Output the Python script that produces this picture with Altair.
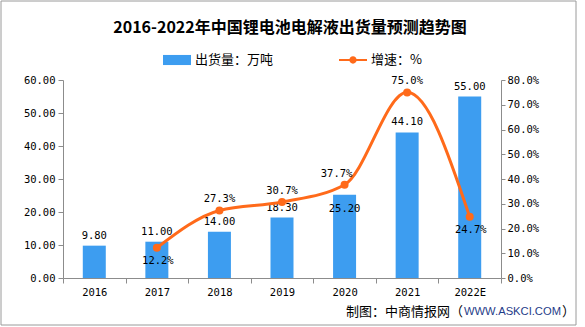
import altair as alt
import pandas as pd

# ---------------- data ----------------
years = ["2016", "2017", "2018", "2019", "2020", "2021", "2022E"]
shipments = [9.80, 11.00, 14.00, 18.30, 25.20, 44.10, 55.00]
growth_years = ["2017", "2018", "2019", "2020", "2021", "2022E"]
growth = [12.2, 27.3, 30.7, 37.7, 75.0, 24.7]
above_label_years = ["2018", "2019", "2021"]
left_shift_label_years = ["2020"]
below_label_years = ["2017", "2022E"]
inside_bar_label_years = ["2020"]
left_ticks = [0, 10, 20, 30, 40, 50, 60]
right_ticks = [0, 10, 20, 30, 40, 50, 60, 70, 80]

title_text = "2016-2022年中国锂电池电解液出货量预测趋势图"
bar_series = "出货量：万吨"
line_series = "增速：%"
source_a = "制图：中商情报网（"
source_b = "WWW.ASKCI.COM"
source_c = "）"

bar_df = pd.DataFrame({"year": years, "value": shipments})
line_df = pd.DataFrame({"year": growth_years, "rate": growth})
one = pd.DataFrame({"k": [0]})

BLUE = "#3D9DF0"
ORANGE = "#FF6A1A"
GRAY = "#8C8C8C"
CJK = "Noto Sans CJK SC"
NUM = "DejaVu Sans Mono"

x_enc = alt.X(
    "year:N",
    sort=years,
    scale=alt.Scale(domain=years, paddingInner=0, paddingOuter=0),
    axis=alt.Axis(
        title=None, labelAngle=0, tickBand="extent", domainColor=GRAY,
        tickColor=GRAY, tickSize=5, labelPadding=4, labelFont=NUM,
        labelFontSize=10.5, labelColor="#000000", grid=False,
    ),
)

y_left = alt.Y(
    "value:Q",
    scale=alt.Scale(domain=[0, 60], nice=False),
    axis=alt.Axis(
        orient="left", title=None, values=left_ticks, format=".2f",
        domainColor=GRAY, tickColor=GRAY, tickSize=5, labelPadding=3,
        labelFont=NUM, labelFontSize=10.5, labelColor="#000000", grid=False,
    ),
)

y_right = alt.Y(
    "rate:Q",
    scale=alt.Scale(domain=[0, 80], nice=False),
    axis=alt.Axis(
        orient="right", title=None, values=right_ticks,
        labelExpr="format(datum.value, '.1f') + '%'",
        domainColor=GRAY, tickColor=GRAY, tickSize=4, labelPadding=2,
        labelFont=NUM, labelFontSize=10.5, labelColor="#000000", grid=False,
    ),
)

bars = alt.Chart(bar_df).transform_calculate(series=f"'{bar_series}'").mark_bar(size=23).encode(
    x=x_enc,
    y=y_left,
    color=alt.Color(
        "series:N",
        scale=alt.Scale(domain=[bar_series], range=[BLUE]),
        legend=alt.Legend(
            title=None, orient="none", legendX=100, legendY=-34,
            symbolType="M-1,-0.36L1,-0.36L1,0.36L-1,0.36Z", symbolSize=784,
            symbolStrokeWidth=0, labelFont=CJK, labelFontSize=13,
            labelColor="#000000", labelOffset=4,
        ),
    ),
)

bar_text = alt.Chart(bar_df).transform_filter(
    {"not": alt.FieldOneOfPredicate(field="year", oneOf=inside_bar_label_years)}
).mark_text(
    font=NUM, fontSize=10.5, color="#000000", baseline="middle", dy=-10
).encode(x=x_enc, y=y_left, text=alt.Text("value:Q", format=".2f"))

bar_text_inside = alt.Chart(bar_df).transform_filter(
    alt.FieldOneOfPredicate(field="year", oneOf=inside_bar_label_years)
).mark_text(
    font=NUM, fontSize=10.5, color="#000000", baseline="middle", dy=14
).encode(x=x_enc, y=y_left, text=alt.Text("value:Q", format=".2f"))

line = alt.Chart(line_df).transform_calculate(series=f"'{line_series}'").mark_line(
    interpolate="monotone", strokeWidth=3
).encode(
    x=x_enc,
    y=y_right,
    stroke=alt.Stroke(
        "series:N",
        scale=alt.Scale(domain=[line_series], range=[ORANGE]),
        legend=alt.Legend(
            title=None, orient="none", legendX=276, legendY=-34,
            symbolType="M-1,-0.08L1,-0.08L1,0.08L-1,0.08Z M0.26,0 A0.26,0.26 0 1,1 -0.26,0 A0.26,0.26 0 1,1 0.26,0Z",
            symbolSize=784, symbolFillColor=ORANGE, symbolStrokeWidth=0,
            labelFont=CJK, labelFontSize=13, labelColor="#000000", labelOffset=4,
        ),
    ),
)

points = alt.Chart(line_df).mark_point(filled=True, size=64, color=ORANGE, opacity=1).encode(
    x=x_enc, y=y_right
)


def rate_labels(which, dx, dy):
    return alt.Chart(line_df).transform_filter(
        alt.FieldOneOfPredicate(field="year", oneOf=which)
    ).transform_calculate(lbl="format(datum.rate, '.1f') + '%'").mark_text(
        font=NUM, fontSize=10.5, color="#000000", baseline="middle", dx=dx, dy=dy
    ).encode(x=x_enc, y=y_right, text="lbl:N")


above = rate_labels(above_label_years, 0, -11)
above_left = rate_labels(left_shift_label_years, -8, -11)
below = rate_labels(below_label_years, 1, 13)

frame = alt.Chart(one).mark_rect(fillOpacity=0, stroke="#9A9A9A", strokeWidth=1).encode(
    x=alt.value(-62), x2=alt.value(513), y=alt.value(-79), y2=alt.value(245)
)

title = alt.Chart(one).mark_text(
    text=title_text, font=CJK, fontSize=16, fontWeight="bold", color="#000000",
    align="center", baseline="middle",
).encode(x=alt.value(227), y=alt.value(-52))

src_a = alt.Chart(one).mark_text(
    text=source_a, font=CJK, fontSize=13, color="#000000", align="right", baseline="middle"
).encode(x=alt.value(400), y=alt.value(232))
src_b = alt.Chart(one).mark_text(
    text=source_b, font="Liberation Sans", fontSize=11.2, color="#1F3C88", align="left", baseline="middle"
).encode(x=alt.value(401), y=alt.value(232))
src_c = alt.Chart(one).mark_text(
    text=source_c, font=CJK, fontSize=13, color="#000000", align="left", baseline="middle"
).encode(x=alt.value(499), y=alt.value(232))

left_layer = alt.layer(bars, bar_text, bar_text_inside)
right_layer = alt.layer(line, points, above, above_left, below)

chart = alt.layer(frame, title, src_a, src_b, src_c, left_layer, right_layer).resolve_scale(
    y="independent"
).properties(
    width=438, height=198,
    autosize=alt.AutoSizeParams(type="none"),
    padding={"left": 63, "top": 80, "right": 84, "bottom": 49},
    background="#FFFFFF",
).configure_view(stroke=None)

chart.save("out.html", embed_options={"renderer": "svg", "actions": False})
